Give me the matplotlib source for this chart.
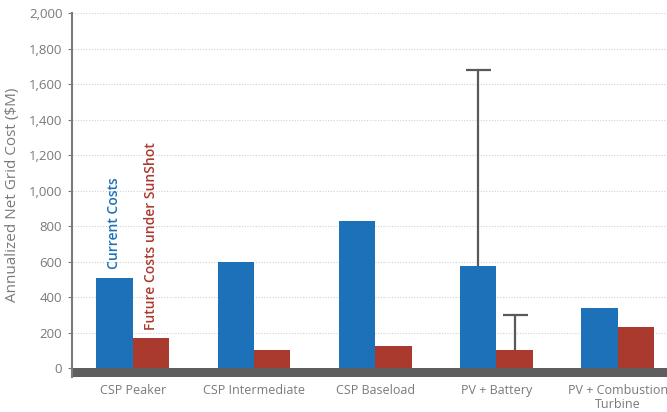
import matplotlib
matplotlib.use("Agg")
import matplotlib.pyplot as plt
import numpy as np

plt.rcParams['font.family'] = ['Open Sans', 'DejaVu Sans']

categories = ["CSP Peaker", "CSP Intermediate", "CSP Baseload", "PV + Battery", "PV + Combustion\nTurbine"]
current = [510, 600, 830, 575, 340]
future = [170, 100, 125, 100, 230]
current_err_up = [0, 0, 0, 1105, 0]   # error bar reaches ~1680
future_err_up = [0, 0, 0, 200, 0]     # error bar reaches ~300

blue = "#1c71b8"
red = "#ab3a2e"
gray = "#7a7a7a"
band = "#5e5e5e"

fig = plt.figure(figsize=(6.67, 4.12), dpi=100)
ax = fig.add_axes([0.108, 0.0852, 0.909, 0.883])

x = np.arange(len(categories))
w = 0.3
ax.bar(x - w/2, current, w, color=blue, zorder=3)
ax.bar(x + w/2, future, w, color=red, zorder=3)

# upward-only error bars, hide the lower cap
for i in range(len(x)):
    for xpos, val, err in [(x[i] - w/2, current[i], current_err_up[i]),
                           (x[i] + w/2, future[i], future_err_up[i])]:
        if err:
            eb = ax.errorbar(xpos, val, yerr=[[0], [err]], color="#595959",
                             capsize=9, elinewidth=1.6, capthick=1.6, zorder=4)
            eb[1][0].set_visible(False)

ax.set_xlim(-0.5, 4.5)
ax.set_ylim(-50, 2000)
ax.axhspan(-50, 0, color=band, zorder=2, lw=0)

ax.set_yticks(np.arange(0, 2001, 200))
ax.set_yticklabels([f"{v:,}" for v in range(0, 2001, 200)], color=gray, fontsize=9.5)
ax.yaxis.grid(True, linestyle=(0, (1, 1.5)), color="#d2d2d2", linewidth=0.8, zorder=0)
ax.tick_params(axis='y', length=3, color=gray, pad=4)

ax.set_xticks(x)
ax.set_xticklabels(categories, color=gray, fontsize=9, linespacing=1.15)
ax.tick_params(axis='x', length=0, pad=5)
ax.set_xticks(np.arange(0.5, 4.5, 1), minor=True)
ax.tick_params(axis='x', which='minor', direction='in', length=4, color='white', width=1)

for s in ['top', 'right', 'bottom']:
    ax.spines[s].set_visible(False)
ax.spines['left'].set_color(gray)
ax.spines['left'].set_linewidth(1.5)

ax.set_ylabel("Annualized Net Grid Cost ($M)", color=gray, fontsize=11, labelpad=6)

ax.text(x[0] - w/2, 560, "Current Costs", rotation=90, color=blue, fontsize=10,
        fontweight='semibold', ha='center', va='bottom')
ax.text(x[0] + w/2, 215, "Future Costs under SunShot", rotation=90, color=red, fontsize=10,
        fontweight='semibold', ha='center', va='bottom')

fig.savefig("out.png", dpi=100)
